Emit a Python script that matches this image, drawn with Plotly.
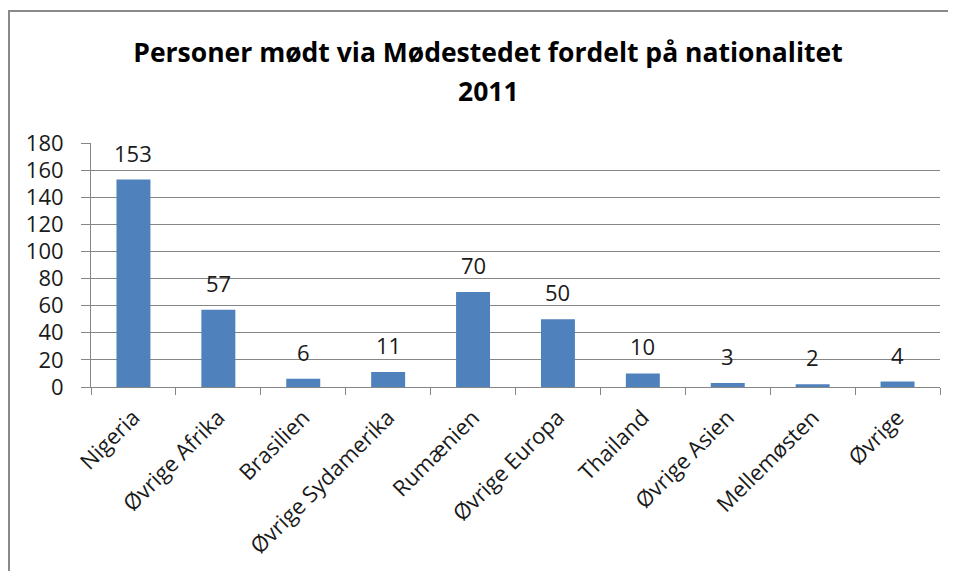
import plotly.graph_objects as go

categories = ["Nigeria", "Øvrige Afrika", "Brasilien", "Øvrige Sydamerika", "Rumænien",
              "Øvrige Europa", "Thailand", "Øvrige Asien", "Mellemøsten", "Øvrige"]
values = [153, 57, 6, 11, 70, 50, 10, 3, 2, 4]
y_ticks = [0, 20, 40, 60, 80, 100, 120, 140, 160, 180]
title_line1 = "Personer mødt via Mødestedet fordelt på nationalitet"
title_line2 = "2011"

FONT = "Open Sans"
# page body has an 8px margin, so the figure is sized to fit inside the window
W, H = 940, 563
L, R, T, B = 83, 8, 135, 184
plot_h = H - T - B
plot_w = W - L - R
TITLE_CX = 480  # title centre (figure px)

fig = go.Figure()
fig.add_trace(go.Bar(
    x=categories, y=values,
    marker=dict(color="#4F81BD", line=dict(width=0)),
    hoverinfo="x+y",
))

annotations = []
for c, v in zip(categories, values):
    annotations.append(dict(
        x=c, y=v, xref="x", yref="y", text=str(v), showarrow=False,
        yanchor="bottom", yshift=10,
        font=dict(family=FONT, size=22, color="#1a1a1a"),
    ))
# second title line
annotations.append(dict(
    x=(TITLE_CX - L) / plot_w, xref="paper", y=(H - B - 83) / plot_h, yref="paper",
    xanchor="center", yanchor="middle", text=f"<b>{title_line2}</b>", showarrow=False,
    font=dict(family=FONT, size=26.5, color="#000000"),
))

fig.update_layout(
    width=W, height=H,
    margin=dict(l=L, r=R, t=T, b=B, autoexpand=False),
    paper_bgcolor="white", plot_bgcolor="white",
    showlegend=False,
    bargap=0.6,
    title=dict(
        text=f"<b>{title_line1}</b>",
        x=TITLE_CX / W, xanchor="center",
        y=1 - 45 / H, yanchor="middle", yref="container",
        font=dict(family=FONT, size=26.5, color="#000000"),
    ),
    annotations=annotations,
    xaxis=dict(
        type="category",
        automargin=False,
        tickangle=-45,
        ticks="outside", tickson="boundaries", ticklen=7, tickcolor="#868686",
        showline=True, linecolor="#868686", linewidth=1,
        showgrid=False,
        ticklabelstandoff=8,
        tickfont=dict(family=FONT, size=22, color="#1a1a1a"),
    ),
    yaxis=dict(
        automargin=False,
        range=[0, 180],
        tickvals=y_ticks,
        ticks="outside", ticklen=9, tickcolor="#868686",
        showline=True, linecolor="#868686", linewidth=1,
        showgrid=True, gridcolor="#868686", gridwidth=1,
        zeroline=False,
        ticklabelstandoff=13,
        tickfont=dict(family=FONT, size=22, color="#1a1a1a"),
    ),
    shapes=[
        dict(type="line", xref="paper", yref="paper",
             x0=(1 - L) / plot_w, x1=(1 - L) / plot_w,
             y0=-(B + 20) / plot_h, y1=(H - B - 3) / plot_h,
             line=dict(color="#898989", width=2)),
        dict(type="line", xref="paper", yref="paper",
             x0=(0 - L) / plot_w, x1=(W + 20 - L) / plot_w,
             y0=(H - B - 3) / plot_h, y1=(H - B - 3) / plot_h,
             line=dict(color="#898989", width=2)),
    ],
)

fig.write_html("out.html")
